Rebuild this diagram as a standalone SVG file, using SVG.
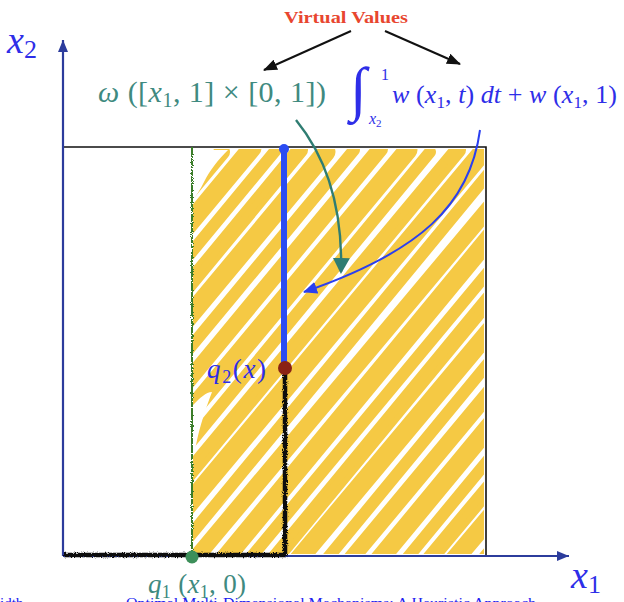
<svg xmlns="http://www.w3.org/2000/svg" width="624" height="602" viewBox="0 0 624 602">
<style>
.math{font-family:"Liberation Serif","DejaVu Serif",serif;}
.it{font-style:italic;}
.blue{fill:#2e2ee8;}
.teal{fill:#3f8a80;}
.axis{stroke:#2c3c9c;stroke-width:2.2;fill:none;}
.frame{stroke:#111;stroke-width:1.6;fill:none;}
.scribble{stroke:#f5c944;fill:none;stroke-linecap:round;}
</style>
<defs>
<clipPath id="regionClip"><rect x="193" y="149" width="291" height="405"/></clipPath>
<filter id="rough" filterUnits="userSpaceOnUse" x="0" y="100" width="624" height="480">
<feTurbulence type="fractalNoise" baseFrequency="0.9" numOctaves="2" seed="3" result="n"/>
<feDisplacementMap in="SourceGraphic" in2="n" scale="3.5" xChannelSelector="R" yChannelSelector="G"/>
</filter>
<marker id="axisHead" viewBox="0 0 12 10" refX="12" refY="5" markerWidth="12" markerHeight="10" markerUnits="userSpaceOnUse" orient="auto"><path d="M0,0 L12,5 L0,10 z" fill="#2c3c9c"/></marker>
<marker id="blackHead" viewBox="0 0 14 11" refX="13" refY="5.5" markerWidth="14" markerHeight="11" markerUnits="userSpaceOnUse" orient="auto"><path d="M0,0 L14,5.5 L0,11 z" fill="#111"/></marker>
<marker id="tealHead" viewBox="0 0 16 17" refX="14" refY="8.5" markerWidth="16" markerHeight="17" markerUnits="userSpaceOnUse" orient="auto"><path d="M0,0 L16,8.5 L0,17 z" fill="#2f7d72"/></marker>
<marker id="blueHead" viewBox="0 0 14 12" refX="13" refY="6" markerWidth="14" markerHeight="12" markerUnits="userSpaceOnUse" orient="auto"><path d="M0,0 L14,6 L0,12 z" fill="#2a3ff0"/></marker>
</defs>
<rect width="624" height="602" fill="#fff"/>

<g id="shaded-region" clip-path="url(#regionClip)">
<path class="scribble" stroke-width="19" d="M-170,560 L172,150 M-92,562 L252,148 M-14,560 L326,152 M66,561 L408,150 M142,560 L486,148 M222,562 L562,150 M298,560 L642,149 M378,561 L718,150 M454,560 L798,152"/>
<path class="scribble" stroke-width="12" d="M-142,560 L196,156 M-64,561 L276,150 M14,560 L354,150 M92,562 L430,152 M170,560 L508,150 M248,561 L588,152 M326,560 L664,150 M404,562 L744,150 M482,560 L822,150"/>
<path class="scribble" stroke-width="16" d="M-118,560 L222,152 M-40,562 L300,150 M40,560 L380,149 M116,561 L458,150 M194,560 L536,152 M272,562 L612,150 M350,560 L692,150 M428,561 L770,151"/>
<path class="scribble" stroke-width="6" d="M-130,575 L210,165 M-52,575 L288,165 M104,575 L444,165 M260,575 L600,165 M416,575 L756,165"/>
<path fill="#fff" d="M193,150 L228,150 C218,160 210,170 204,182 C200,190 196,196 193,200 Z"/>
<path fill="#fff" d="M193,405 C200,398 206,392 212,392 C206,408 200,425 196,445 L193,455 Z"/>
</g>

<g id="frame">
<path class="frame" d="M63,147 L486,147 L486,556"/>
</g>

<g id="q1-line">
<line x1="192" y1="147" x2="192" y2="556" stroke="#3b7d2c" stroke-width="2" filter="url(#rough)"/>
</g>

<g id="axes">
<path class="axis" d="M63,556 L63,40" marker-end="url(#axisHead)"/>
<path class="axis" d="M63,556 L569,556" marker-end="url(#axisHead)"/>
</g>

<g id="boundary">
<path d="M285,368 L285,555 L64,555" stroke="#111" stroke-width="4.5" fill="none" filter="url(#rough)"/>
<line x1="284" y1="150" x2="284" y2="366" stroke="#2b4cf2" stroke-width="6" stroke-linecap="round"/>
</g>

<g id="point-top"><circle cx="284" cy="149" r="5" fill="#2b4cf2"/></g>
<g id="point-q2"><circle cx="285" cy="368" r="7" fill="#8a2214"/></g>
<g id="point-q1"><circle cx="192" cy="557" r="6.5" fill="#3d8f5a"/></g>

<g id="connectors">
<path d="M351,31 L264,70" stroke="#111" stroke-width="2" fill="none" marker-end="url(#blackHead)"/>
<path d="M385,31 L460,64" stroke="#111" stroke-width="2" fill="none" marker-end="url(#blackHead)"/>
<path d="M296,120 C322,152 343,200 341,272" stroke="#2f7d72" stroke-width="2.4" fill="none" marker-end="url(#tealHead)"/>
<path d="M480,130 C470,205 420,252 304,292" stroke="#2a3ff0" stroke-width="2" fill="none" marker-end="url(#blueHead)"/>
</g>

<g id="virtual-values">
<text x="346" y="23" text-anchor="middle" font-family="'Liberation Serif',serif" font-weight="bold" font-size="17" fill="#e8462f" textLength="124" lengthAdjust="spacingAndGlyphs">Virtual Values</text>
</g>

<g id="x2-label">
<text x="7" y="53" class="math blue" font-size="38"><tspan class="it">x</tspan><tspan font-size="26" dy="5">2</tspan></text>
</g>
<g id="x1-label">
<text x="571" y="588" class="math blue" font-size="38"><tspan class="it">x</tspan><tspan font-size="26" dy="5">1</tspan></text>
</g>

<g id="omega-label">
<text x="98" y="102" class="math teal" font-size="30" textLength="228" lengthAdjust="spacing"><tspan class="it">ω</tspan> ([<tspan class="it">x</tspan><tspan font-size="20" dy="5">1</tspan><tspan dy="-5">, 1] × [0, 1])</tspan></text>
</g>

<g id="integral-label">
<text x="350" y="109" class="math blue it" font-size="60">∫</text>
<text x="381" y="80" class="math blue" font-size="16">1</text>
<text x="369" y="124" class="math blue" font-size="16"><tspan class="it">x</tspan><tspan font-size="11" dy="3">2</tspan></text>
<text x="392" y="103" class="math blue" font-size="26" textLength="225" lengthAdjust="spacing"><tspan class="it">w</tspan> (<tspan class="it">x</tspan><tspan font-size="17" dy="5">1</tspan><tspan dy="-5">, </tspan><tspan class="it">t</tspan>) <tspan class="it">dt</tspan> + <tspan class="it">w</tspan> (<tspan class="it">x</tspan><tspan font-size="17" dy="5">1</tspan><tspan dy="-5">, 1)</tspan></text>
</g>

<g id="q2-label">
<text x="207" y="378" class="math blue" font-size="27" textLength="59" lengthAdjust="spacing"><tspan class="it">q</tspan><tspan font-size="18" dy="5">2</tspan><tspan dy="-5">(</tspan><tspan class="it">x</tspan>)</text>
</g>

<g id="q1-label">
<text x="148" y="593" class="math teal" font-size="27" textLength="98" lengthAdjust="spacing"><tspan class="it">q</tspan><tspan font-size="18" dy="5">1</tspan><tspan dy="-5"> (</tspan><tspan class="it">x</tspan><tspan font-size="18" dy="5">1</tspan><tspan dy="-5">, 0)</tspan></text>
</g>

<g id="footer">
<text x="0" y="608" font-family="'Liberation Serif',serif" font-size="15" fill="#2020f0">idth</text>
<text x="126" y="608" font-family="'Liberation Serif',serif" font-size="15" fill="#2020f0" textLength="410" lengthAdjust="spacingAndGlyphs">Optimal Multi-Dimensional Mechanisms: A Heuristic Approach</text>
</g>
</svg>
